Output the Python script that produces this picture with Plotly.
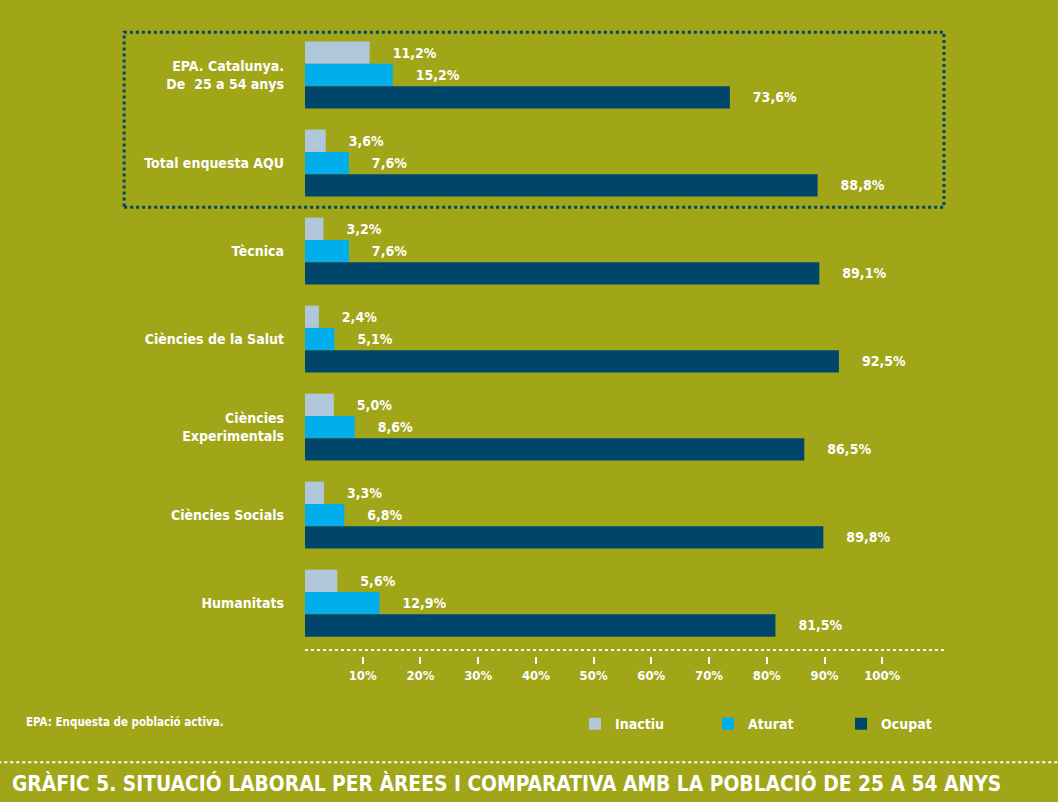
import plotly.graph_objects as go

categories = ["EPA. Catalunya.<br>De  25 a 54 anys", "Total enquesta AQU", "Tècnica",
              "Ciències de la Salut", "Ciències<br>Experimentals", "Ciències Socials", "Humanitats"]
inactiu = [11.2, 3.6, 3.2, 2.4, 5.0, 3.3, 5.6]
aturat = [15.2, 7.6, 7.6, 5.1, 8.6, 6.8, 12.9]
ocupat = [73.6, 88.8, 89.1, 92.5, 86.5, 89.8, 81.5]
series_names = ["Inactiu", "Aturat", "Ocupat"]
tick_values = [10, 20, 30, 40, 50, 60, 70, 80, 90, 100]
tick_labels = ["10%", "20%", "30%", "40%", "50%", "60%", "70%", "80%", "90%", "100%"]

BG = "#A0A617"
COLORS = ["#B0C6DA", "#00AEEC", "#00466B"]
FONT = "DejaVu Sans Condensed, Liberation Sans Narrow, Arial Narrow, sans-serif"
PAD = "\u00a0" * 5


def fmt(v):
    return PAD + "<b>" + f"{v:.1f}".replace(".", ",") + "%</b>"


fig = go.Figure()
for name, vals, col in zip(series_names, [inactiu, aturat, ocupat], COLORS):
    fig.add_trace(go.Bar(
        y=categories, x=vals, name=name, orientation="h",
        marker=dict(color=col, line=dict(width=0)),
        text=[fmt(v) for v in vals], textposition="outside",
        textfont=dict(color="white", size=14, family=FONT),
        cliponaxis=False,
    ))

fig.update_layout(
    width=1058, height=802,
    paper_bgcolor=BG, plot_bgcolor=BG,
    barmode="group", bargap=0.24, bargroupgap=0,
    margin=dict(l=305, r=114, t=31, b=146),
    font=dict(family=FONT, color="white"),
    showlegend=True,
    legend=dict(orientation="h", xref="container", yref="container",
                x=0.5435, y=0.097, xanchor="left", yanchor="middle",
                entrywidth=88, entrywidthmode="pixels",
                font=dict(size=14, color="white", family=FONT, weight="bold"),
                bgcolor="rgba(0,0,0,0)", traceorder="normal"),
)
fig.update_yaxes(autorange=False, range=[6.6, -0.5], showgrid=False, zeroline=False,
                 showline=False, ticks="", ticklabelstandoff=20,
                 tickmode="array", tickvals=categories,
                 ticktext=["<b>" + c + "</b>" for c in categories],
                 tickfont=dict(size=14, color="white", family=FONT))
fig.update_xaxes(range=[0, 110.7], showgrid=False, zeroline=False, showline=False,
                 tickvals=tick_values, ticktext=["<b>" + t + "</b>" for t in tick_labels],
                 ticks="outside", ticklen=7, tickwidth=2, tickcolor="white",
                 tickfont=dict(size=13, color="white", family=FONT))

# dotted frame around the comparison groups
fig.add_shape(type="rect", xref="paper", yref="paper", x0=-0.283, x1=1.0, y0=0.718, y1=0.998,
              line=dict(color="#00466B", width=3, dash="dot"), layer="below")
# dotted axis line
fig.add_shape(type="line", xref="paper", yref="paper", x0=0, x1=1.0, y0=0.0096, y1=0.0096,
              line=dict(color="white", width=2, dash="dot"))
# dotted separator above the title band
fig.add_shape(type="line", xref="paper", yref="paper", x0=-0.48, x1=1.18, y0=-0.17, y1=-0.17,
              line=dict(color="white", width=2, dash="dot"))

fig.add_annotation(text="<b>EPA: Enquesta de població activa.</b>", xref="paper", yref="paper",
                   x=-0.44, y=-0.105, xanchor="left", yanchor="middle", showarrow=False,
                   font=dict(size=11.5, color="white", family=FONT))
fig.add_annotation(text="<b>GRÀFIC 5. SITUACIÓ LABORAL PER ÀREES I COMPARATIVA AMB LA POBLACIÓ DE 25 A 54 ANYS</b>",
                   xref="paper", yref="paper", x=-0.461, y=-0.204, xanchor="left", yanchor="middle",
                   showarrow=False, font=dict(size=20.8, color="white", family=FONT))

fig.write_html("out.html", config={"displayModeBar": False},
               post_script="document.body.style.margin='0';document.body.style.padding='0';document.body.style.background='" + BG + "';")
